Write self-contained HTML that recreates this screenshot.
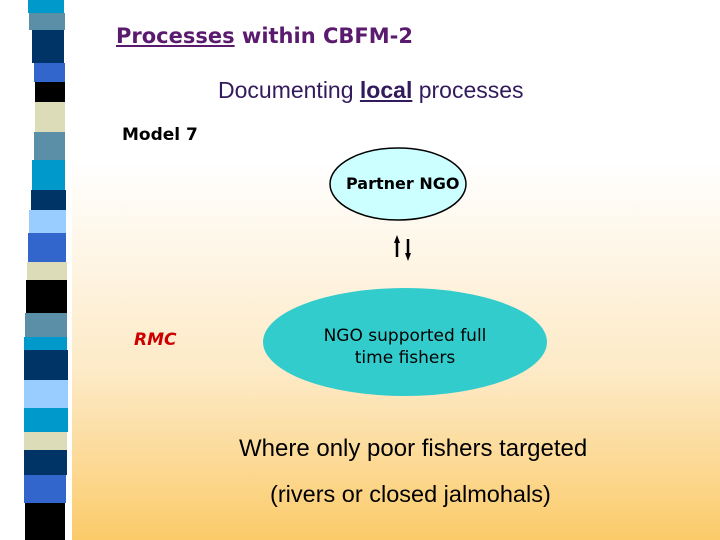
<!DOCTYPE html>
<html><head><style>
body{margin:0;width:720px;height:540px;position:relative;overflow:hidden;background:#fff;font-family:"DejaVu Sans","Liberation Sans",sans-serif}
.bg{position:absolute;left:72px;top:0;width:648px;height:540px;background:linear-gradient(#fff 0%,#fff 30%,#fde9c4 70%,#fbcb6a 100%)}
.s{position:absolute;left:30px;width:36px}
.t{position:absolute;white-space:nowrap}
</style></head><body>
<div class="bg"></div>
<div class="s" style="top:0;height:13px;background:#0099cc;left:28px"></div>
<div class="s" style="top:13px;height:17px;background:#5b8fa8;left:29px"></div>
<div class="s" style="top:30px;height:33px;background:#003366;left:32px;width:32px"></div>
<div class="s" style="top:63px;height:19px;background:#3366cc;left:34px;width:31px"></div>
<div class="s" style="top:82px;height:20px;background:#000;left:35px;width:30px"></div>
<div class="s" style="top:102px;height:30px;background:#dcdcb8;left:35px;width:30px"></div>
<div class="s" style="top:132px;height:28px;background:#5b8fa8;left:34px;width:31px"></div>
<div class="s" style="top:160px;height:30px;background:#0099cc;left:32px;width:33px"></div>
<div class="s" style="top:190px;height:20px;background:#003366;left:31px;width:35px"></div>
<div class="s" style="top:210px;height:23px;background:#99ccff;left:29px;width:37px"></div>
<div class="s" style="top:233px;height:29px;background:#3366cc;left:28px;width:38px"></div>
<div class="s" style="top:262px;height:18px;background:#dcdcb8;left:27px;width:40px"></div>
<div class="s" style="top:280px;height:33px;background:#000;left:26px;width:41px"></div>
<div class="s" style="top:313px;height:24px;background:#5b8fa8;left:25px;width:42px"></div>
<div class="s" style="top:337px;height:13px;background:#0099cc;left:24px;width:43px"></div>
<div class="s" style="top:350px;height:30px;background:#003366;left:24px;width:44px"></div>
<div class="s" style="top:380px;height:28px;background:#99ccff;left:24px;width:44px"></div>
<div class="s" style="top:408px;height:24px;background:#0099cc;left:24px;width:44px"></div>
<div class="s" style="top:432px;height:18px;background:#dcdcb8;left:24px;width:43px"></div>
<div class="s" style="top:450px;height:25px;background:#003366;left:24px;width:43px"></div>
<div class="s" style="top:475px;height:28px;background:#3366cc;left:24px;width:42px"></div>
<div class="s" style="top:503px;height:37px;background:#000;left:25px;width:40px"></div>

<div class="t" style="left:116px;top:24px;font-size:21px;font-weight:bold;color:#5a1a6e"><u>Processes</u> within CBFM-2</div>
<div class="t" style="left:218px;top:77px;font-size:23px;font-family:'Liberation Sans',sans-serif;color:#331a5c">Documenting <b><u>local</u></b> processes</div>
<div class="t" style="left:122px;top:125px;font-size:17px;font-weight:bold;color:#000">Model 7</div>

<svg width="720" height="540" style="position:absolute;left:0;top:0">
<ellipse cx="398" cy="184" rx="68" ry="36" fill="#ccffff" stroke="#000" stroke-width="1.5"/>
<ellipse cx="405" cy="342" rx="142" ry="54" fill="#33cccc"/>
<line x1="397" y1="243" x2="397" y2="257" stroke="#000" stroke-width="2.5"/>
<polygon points="394,243 400,243 397,235" fill="#000"/>
<line x1="408" y1="239" x2="408" y2="253" stroke="#000" stroke-width="2.5"/>
<polygon points="405,253 411,253 408,261" fill="#000"/>
</svg>
<div class="t" style="left:346px;top:174px;font-size:16px;font-weight:bold;color:#000">Partner NGO</div>
<div class="t" style="left:134px;top:330px;font-size:17px;font-weight:bold;font-style:italic;color:#cc0000">RMC</div>
<div class="t" style="left:312px;top:325px;width:186px;text-align:center;font-size:17px;line-height:22px;color:#000;white-space:normal">NGO supported full time fishers</div>
<div class="t" style="left:239px;top:435px;font-size:24px;font-family:'Liberation Sans',sans-serif;color:#000">Where only poor fishers targeted</div>
<div class="t" style="left:270px;top:481px;font-size:23.5px;font-family:'Liberation Sans',sans-serif;color:#000">(rivers or closed jalmohals)</div>
</body></html>
